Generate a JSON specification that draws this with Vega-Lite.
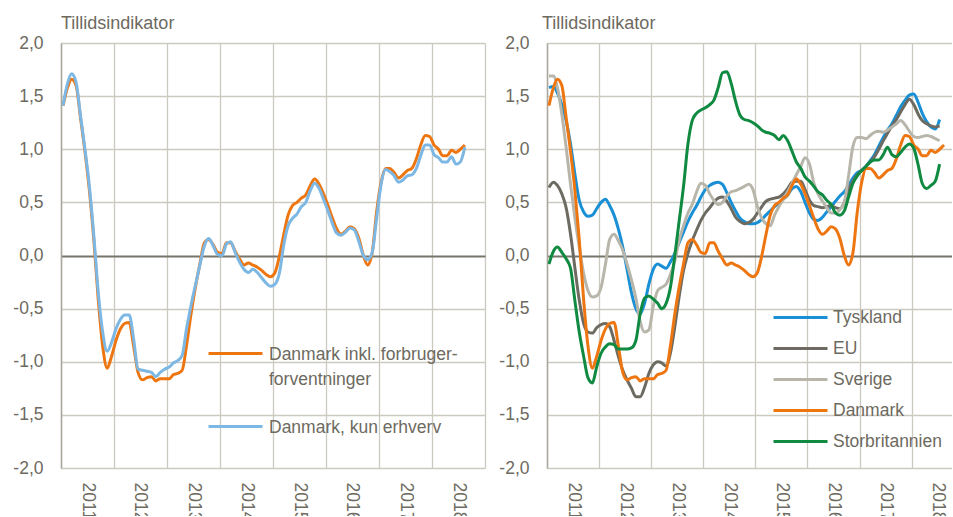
{
"$schema":"https://vega.github.io/schema/vega-lite/v6.json",
"background":"white",
"padding":{"left":12,"top":15,"right":0,"bottom":-5},
"spacing":62,
"bounds":"flush",
"config":{
 "font":"Liberation Sans",
 "view":{"stroke":null},
 "axis":{"labelFont":"Liberation Sans","labelColor":"#6d6a60","labelFontSize":17.5,"title":null,"ticks":false},
 "title":{"font":"Liberation Sans","fontSize":18,"fontWeight":"normal","color":"#6d6a60","anchor":"start","frame":"group","offset":1},
 "legend":{"labelFont":"Liberation Sans","labelColor":"#6d6a60","labelFontSize":17.5,"labelLimit":400,"padding":0,"symbolType":"stroke","symbolSize":2916,"symbolStrokeWidth":3,"labelOffset":5,"title":null}
},
"resolve":{"scale":{"color":"independent","x":"independent","y":"independent"},"legend":{"color":"independent"}},
"datasets":{
"left":[
{"s":"Danmark inkl. forbruger-forventninger","d":"2011-01-15","v":1.41},{"s":"Danmark inkl. forbruger-forventninger","d":"2011-02-15","v":1.58},{"s":"Danmark inkl. forbruger-forventninger","d":"2011-03-15","v":1.66},{"s":"Danmark inkl. forbruger-forventninger","d":"2011-04-15","v":1.60},{"s":"Danmark inkl. forbruger-forventninger","d":"2011-05-15","v":1.30},{"s":"Danmark inkl. forbruger-forventninger","d":"2011-06-15","v":0.98},{"s":"Danmark inkl. forbruger-forventninger","d":"2011-07-15","v":0.62},{"s":"Danmark inkl. forbruger-forventninger","d":"2011-08-15","v":0.15},{"s":"Danmark inkl. forbruger-forventninger","d":"2011-09-15","v":-0.42},{"s":"Danmark inkl. forbruger-forventninger","d":"2011-10-15","v":-0.85},{"s":"Danmark inkl. forbruger-forventninger","d":"2011-11-15","v":-1.06},{"s":"Danmark inkl. forbruger-forventninger","d":"2011-12-15","v":-0.95},
{"s":"Danmark inkl. forbruger-forventninger","d":"2012-01-15","v":-0.80},{"s":"Danmark inkl. forbruger-forventninger","d":"2012-02-15","v":-0.69},{"s":"Danmark inkl. forbruger-forventninger","d":"2012-03-15","v":-0.64},{"s":"Danmark inkl. forbruger-forventninger","d":"2012-04-15","v":-0.63},{"s":"Danmark inkl. forbruger-forventninger","d":"2012-05-15","v":-0.85},{"s":"Danmark inkl. forbruger-forventninger","d":"2012-06-15","v":-1.10},{"s":"Danmark inkl. forbruger-forventninger","d":"2012-07-15","v":-1.17},{"s":"Danmark inkl. forbruger-forventninger","d":"2012-08-15","v":-1.15},{"s":"Danmark inkl. forbruger-forventninger","d":"2012-09-15","v":-1.14},{"s":"Danmark inkl. forbruger-forventninger","d":"2012-10-15","v":-1.18},{"s":"Danmark inkl. forbruger-forventninger","d":"2012-11-15","v":-1.16},{"s":"Danmark inkl. forbruger-forventninger","d":"2012-12-15","v":-1.16},
{"s":"Danmark inkl. forbruger-forventninger","d":"2013-01-15","v":-1.16},{"s":"Danmark inkl. forbruger-forventninger","d":"2013-02-15","v":-1.12},{"s":"Danmark inkl. forbruger-forventninger","d":"2013-03-15","v":-1.11},{"s":"Danmark inkl. forbruger-forventninger","d":"2013-04-15","v":-1.08},{"s":"Danmark inkl. forbruger-forventninger","d":"2013-05-15","v":-0.85},{"s":"Danmark inkl. forbruger-forventninger","d":"2013-06-15","v":-0.55},{"s":"Danmark inkl. forbruger-forventninger","d":"2013-07-15","v":-0.30},{"s":"Danmark inkl. forbruger-forventninger","d":"2013-08-15","v":-0.08},{"s":"Danmark inkl. forbruger-forventninger","d":"2013-09-15","v":0.12},{"s":"Danmark inkl. forbruger-forventninger","d":"2013-10-15","v":0.15},{"s":"Danmark inkl. forbruger-forventninger","d":"2013-11-15","v":0.10},{"s":"Danmark inkl. forbruger-forventninger","d":"2013-12-15","v":0.03},
{"s":"Danmark inkl. forbruger-forventninger","d":"2014-01-15","v":0.02},{"s":"Danmark inkl. forbruger-forventninger","d":"2014-02-15","v":0.12},{"s":"Danmark inkl. forbruger-forventninger","d":"2014-03-15","v":0.12},{"s":"Danmark inkl. forbruger-forventninger","d":"2014-04-15","v":0.04},{"s":"Danmark inkl. forbruger-forventninger","d":"2014-05-15","v":-0.03},{"s":"Danmark inkl. forbruger-forventninger","d":"2014-06-15","v":-0.09},{"s":"Danmark inkl. forbruger-forventninger","d":"2014-07-15","v":-0.07},{"s":"Danmark inkl. forbruger-forventninger","d":"2014-08-15","v":-0.09},{"s":"Danmark inkl. forbruger-forventninger","d":"2014-09-15","v":-0.11},{"s":"Danmark inkl. forbruger-forventninger","d":"2014-10-15","v":-0.14},{"s":"Danmark inkl. forbruger-forventninger","d":"2014-11-15","v":-0.18},{"s":"Danmark inkl. forbruger-forventninger","d":"2014-12-15","v":-0.20},
{"s":"Danmark inkl. forbruger-forventninger","d":"2015-01-15","v":-0.16},{"s":"Danmark inkl. forbruger-forventninger","d":"2015-02-15","v":0.00},{"s":"Danmark inkl. forbruger-forventninger","d":"2015-03-15","v":0.19},{"s":"Danmark inkl. forbruger-forventninger","d":"2015-04-15","v":0.38},{"s":"Danmark inkl. forbruger-forventninger","d":"2015-05-15","v":0.47},{"s":"Danmark inkl. forbruger-forventninger","d":"2015-06-15","v":0.50},{"s":"Danmark inkl. forbruger-forventninger","d":"2015-07-15","v":0.54},{"s":"Danmark inkl. forbruger-forventninger","d":"2015-08-15","v":0.57},{"s":"Danmark inkl. forbruger-forventninger","d":"2015-09-15","v":0.66},{"s":"Danmark inkl. forbruger-forventninger","d":"2015-10-15","v":0.72},{"s":"Danmark inkl. forbruger-forventninger","d":"2015-11-15","v":0.67},{"s":"Danmark inkl. forbruger-forventninger","d":"2015-12-15","v":0.58},
{"s":"Danmark inkl. forbruger-forventninger","d":"2016-01-15","v":0.47},{"s":"Danmark inkl. forbruger-forventninger","d":"2016-02-15","v":0.35},{"s":"Danmark inkl. forbruger-forventninger","d":"2016-03-15","v":0.25},{"s":"Danmark inkl. forbruger-forventninger","d":"2016-04-15","v":0.20},{"s":"Danmark inkl. forbruger-forventninger","d":"2016-05-15","v":0.23},{"s":"Danmark inkl. forbruger-forventninger","d":"2016-06-15","v":0.27},{"s":"Danmark inkl. forbruger-forventninger","d":"2016-07-15","v":0.25},{"s":"Danmark inkl. forbruger-forventninger","d":"2016-08-15","v":0.16},{"s":"Danmark inkl. forbruger-forventninger","d":"2016-09-15","v":0.00},{"s":"Danmark inkl. forbruger-forventninger","d":"2016-10-15","v":-0.09},{"s":"Danmark inkl. forbruger-forventninger","d":"2016-11-15","v":0.03},{"s":"Danmark inkl. forbruger-forventninger","d":"2016-12-15","v":0.41},
{"s":"Danmark inkl. forbruger-forventninger","d":"2017-01-15","v":0.69},{"s":"Danmark inkl. forbruger-forventninger","d":"2017-02-15","v":0.82},{"s":"Danmark inkl. forbruger-forventninger","d":"2017-03-15","v":0.82},{"s":"Danmark inkl. forbruger-forventninger","d":"2017-04-15","v":0.78},{"s":"Danmark inkl. forbruger-forventninger","d":"2017-05-15","v":0.73},{"s":"Danmark inkl. forbruger-forventninger","d":"2017-06-15","v":0.76},{"s":"Danmark inkl. forbruger-forventninger","d":"2017-07-15","v":0.80},{"s":"Danmark inkl. forbruger-forventninger","d":"2017-08-15","v":0.82},{"s":"Danmark inkl. forbruger-forventninger","d":"2017-09-15","v":0.91},{"s":"Danmark inkl. forbruger-forventninger","d":"2017-10-15","v":1.04},{"s":"Danmark inkl. forbruger-forventninger","d":"2017-11-15","v":1.13},{"s":"Danmark inkl. forbruger-forventninger","d":"2017-12-15","v":1.12},
{"s":"Danmark inkl. forbruger-forventninger","d":"2018-01-15","v":1.04},{"s":"Danmark inkl. forbruger-forventninger","d":"2018-02-15","v":1.00},{"s":"Danmark inkl. forbruger-forventninger","d":"2018-03-15","v":0.94},{"s":"Danmark inkl. forbruger-forventninger","d":"2018-04-15","v":0.94},{"s":"Danmark inkl. forbruger-forventninger","d":"2018-05-15","v":0.99},{"s":"Danmark inkl. forbruger-forventninger","d":"2018-06-15","v":0.97},{"s":"Danmark inkl. forbruger-forventninger","d":"2018-07-15","v":1.00},{"s":"Danmark inkl. forbruger-forventninger","d":"2018-08-15","v":1.04},
{"s":"Danmark, kun erhverv","d":"2011-01-15","v":1.41},{"s":"Danmark, kun erhverv","d":"2011-02-15","v":1.62},{"s":"Danmark, kun erhverv","d":"2011-03-15","v":1.71},{"s":"Danmark, kun erhverv","d":"2011-04-15","v":1.63},{"s":"Danmark, kun erhverv","d":"2011-05-15","v":1.32},{"s":"Danmark, kun erhverv","d":"2011-06-15","v":1.00},{"s":"Danmark, kun erhverv","d":"2011-07-15","v":0.66},{"s":"Danmark, kun erhverv","d":"2011-08-15","v":0.19},{"s":"Danmark, kun erhverv","d":"2011-09-15","v":-0.35},{"s":"Danmark, kun erhverv","d":"2011-10-15","v":-0.72},{"s":"Danmark, kun erhverv","d":"2011-11-15","v":-0.90},{"s":"Danmark, kun erhverv","d":"2011-12-15","v":-0.82},
{"s":"Danmark, kun erhverv","d":"2012-01-15","v":-0.69},{"s":"Danmark, kun erhverv","d":"2012-02-15","v":-0.60},{"s":"Danmark, kun erhverv","d":"2012-03-15","v":-0.56},{"s":"Danmark, kun erhverv","d":"2012-04-15","v":-0.56},{"s":"Danmark, kun erhverv","d":"2012-05-15","v":-0.78},{"s":"Danmark, kun erhverv","d":"2012-06-15","v":-1.07},{"s":"Danmark, kun erhverv","d":"2012-07-15","v":-1.08},{"s":"Danmark, kun erhverv","d":"2012-08-15","v":-1.09},{"s":"Danmark, kun erhverv","d":"2012-09-15","v":-1.10},{"s":"Danmark, kun erhverv","d":"2012-10-15","v":-1.14},{"s":"Danmark, kun erhverv","d":"2012-11-15","v":-1.10},{"s":"Danmark, kun erhverv","d":"2012-12-15","v":-1.07},
{"s":"Danmark, kun erhverv","d":"2013-01-15","v":-1.05},{"s":"Danmark, kun erhverv","d":"2013-02-15","v":-1.01},{"s":"Danmark, kun erhverv","d":"2013-03-15","v":-0.99},{"s":"Danmark, kun erhverv","d":"2013-04-15","v":-0.94},{"s":"Danmark, kun erhverv","d":"2013-05-15","v":-0.69},{"s":"Danmark, kun erhverv","d":"2013-06-15","v":-0.47},{"s":"Danmark, kun erhverv","d":"2013-07-15","v":-0.28},{"s":"Danmark, kun erhverv","d":"2013-08-15","v":-0.09},{"s":"Danmark, kun erhverv","d":"2013-09-15","v":0.09},{"s":"Danmark, kun erhverv","d":"2013-10-15","v":0.16},{"s":"Danmark, kun erhverv","d":"2013-11-15","v":0.09},{"s":"Danmark, kun erhverv","d":"2013-12-15","v":0.01},
{"s":"Danmark, kun erhverv","d":"2014-01-15","v":0.00},{"s":"Danmark, kun erhverv","d":"2014-02-15","v":0.11},{"s":"Danmark, kun erhverv","d":"2014-03-15","v":0.13},{"s":"Danmark, kun erhverv","d":"2014-04-15","v":0.03},{"s":"Danmark, kun erhverv","d":"2014-05-15","v":-0.06},{"s":"Danmark, kun erhverv","d":"2014-06-15","v":-0.13},{"s":"Danmark, kun erhverv","d":"2014-07-15","v":-0.16},{"s":"Danmark, kun erhverv","d":"2014-08-15","v":-0.13},{"s":"Danmark, kun erhverv","d":"2014-09-15","v":-0.16},{"s":"Danmark, kun erhverv","d":"2014-10-15","v":-0.21},{"s":"Danmark, kun erhverv","d":"2014-11-15","v":-0.26},{"s":"Danmark, kun erhverv","d":"2014-12-15","v":-0.29},
{"s":"Danmark, kun erhverv","d":"2015-01-15","v":-0.27},{"s":"Danmark, kun erhverv","d":"2015-02-15","v":-0.16},{"s":"Danmark, kun erhverv","d":"2015-03-15","v":0.09},{"s":"Danmark, kun erhverv","d":"2015-04-15","v":0.28},{"s":"Danmark, kun erhverv","d":"2015-05-15","v":0.35},{"s":"Danmark, kun erhverv","d":"2015-06-15","v":0.39},{"s":"Danmark, kun erhverv","d":"2015-07-15","v":0.46},{"s":"Danmark, kun erhverv","d":"2015-08-15","v":0.50},{"s":"Danmark, kun erhverv","d":"2015-09-15","v":0.61},{"s":"Danmark, kun erhverv","d":"2015-10-15","v":0.68},{"s":"Danmark, kun erhverv","d":"2015-11-15","v":0.63},{"s":"Danmark, kun erhverv","d":"2015-12-15","v":0.53},
{"s":"Danmark, kun erhverv","d":"2016-01-15","v":0.42},{"s":"Danmark, kun erhverv","d":"2016-02-15","v":0.30},{"s":"Danmark, kun erhverv","d":"2016-03-15","v":0.21},{"s":"Danmark, kun erhverv","d":"2016-04-15","v":0.19},{"s":"Danmark, kun erhverv","d":"2016-05-15","v":0.22},{"s":"Danmark, kun erhverv","d":"2016-06-15","v":0.26},{"s":"Danmark, kun erhverv","d":"2016-07-15","v":0.24},{"s":"Danmark, kun erhverv","d":"2016-08-15","v":0.13},{"s":"Danmark, kun erhverv","d":"2016-09-15","v":0.00},{"s":"Danmark, kun erhverv","d":"2016-10-15","v":-0.04},{"s":"Danmark, kun erhverv","d":"2016-11-15","v":0.03},{"s":"Danmark, kun erhverv","d":"2016-12-15","v":0.35},
{"s":"Danmark, kun erhverv","d":"2017-01-15","v":0.67},{"s":"Danmark, kun erhverv","d":"2017-02-15","v":0.81},{"s":"Danmark, kun erhverv","d":"2017-03-15","v":0.79},{"s":"Danmark, kun erhverv","d":"2017-04-15","v":0.75},{"s":"Danmark, kun erhverv","d":"2017-05-15","v":0.69},{"s":"Danmark, kun erhverv","d":"2017-06-15","v":0.71},{"s":"Danmark, kun erhverv","d":"2017-07-15","v":0.75},{"s":"Danmark, kun erhverv","d":"2017-08-15","v":0.76},{"s":"Danmark, kun erhverv","d":"2017-09-15","v":0.82},{"s":"Danmark, kun erhverv","d":"2017-10-15","v":0.94},{"s":"Danmark, kun erhverv","d":"2017-11-15","v":1.04},{"s":"Danmark, kun erhverv","d":"2017-12-15","v":1.04},
{"s":"Danmark, kun erhverv","d":"2018-01-15","v":0.95},{"s":"Danmark, kun erhverv","d":"2018-02-15","v":0.92},{"s":"Danmark, kun erhverv","d":"2018-03-15","v":0.88},{"s":"Danmark, kun erhverv","d":"2018-04-15","v":0.88},{"s":"Danmark, kun erhverv","d":"2018-05-15","v":0.93},{"s":"Danmark, kun erhverv","d":"2018-06-15","v":0.86},{"s":"Danmark, kun erhverv","d":"2018-07-15","v":0.88},{"s":"Danmark, kun erhverv","d":"2018-08-15","v":1.02}
],
"right":[
{"s":"Tyskland","d":"2011-01-15","v":1.58},{"s":"Tyskland","d":"2011-02-15","v":1.59},{"s":"Tyskland","d":"2011-03-15","v":1.53},{"s":"Tyskland","d":"2011-04-15","v":1.42},{"s":"Tyskland","d":"2011-05-15","v":1.27},{"s":"Tyskland","d":"2011-06-15","v":1.05},{"s":"Tyskland","d":"2011-07-15","v":0.77},{"s":"Tyskland","d":"2011-08-15","v":0.52},{"s":"Tyskland","d":"2011-09-15","v":0.41},{"s":"Tyskland","d":"2011-10-15","v":0.37},{"s":"Tyskland","d":"2011-11-15","v":0.38},{"s":"Tyskland","d":"2011-12-15","v":0.44},
{"s":"Tyskland","d":"2012-01-15","v":0.50},{"s":"Tyskland","d":"2012-02-15","v":0.53},{"s":"Tyskland","d":"2012-03-15","v":0.47},{"s":"Tyskland","d":"2012-04-15","v":0.38},{"s":"Tyskland","d":"2012-05-15","v":0.25},{"s":"Tyskland","d":"2012-06-15","v":0.08},{"s":"Tyskland","d":"2012-07-15","v":-0.13},{"s":"Tyskland","d":"2012-08-15","v":-0.35},{"s":"Tyskland","d":"2012-09-15","v":-0.50},{"s":"Tyskland","d":"2012-10-15","v":-0.55},{"s":"Tyskland","d":"2012-11-15","v":-0.45},{"s":"Tyskland","d":"2012-12-15","v":-0.27},
{"s":"Tyskland","d":"2013-01-15","v":-0.13},{"s":"Tyskland","d":"2013-02-15","v":-0.08},{"s":"Tyskland","d":"2013-03-15","v":-0.10},{"s":"Tyskland","d":"2013-04-15","v":-0.12},{"s":"Tyskland","d":"2013-05-15","v":-0.06},{"s":"Tyskland","d":"2013-06-15","v":0.02},{"s":"Tyskland","d":"2013-07-15","v":0.12},{"s":"Tyskland","d":"2013-08-15","v":0.22},{"s":"Tyskland","d":"2013-09-15","v":0.32},{"s":"Tyskland","d":"2013-10-15","v":0.40},{"s":"Tyskland","d":"2013-11-15","v":0.47},{"s":"Tyskland","d":"2013-12-15","v":0.55},
{"s":"Tyskland","d":"2014-01-15","v":0.62},{"s":"Tyskland","d":"2014-02-15","v":0.66},{"s":"Tyskland","d":"2014-03-15","v":0.68},{"s":"Tyskland","d":"2014-04-15","v":0.69},{"s":"Tyskland","d":"2014-05-15","v":0.67},{"s":"Tyskland","d":"2014-06-15","v":0.59},{"s":"Tyskland","d":"2014-07-15","v":0.50},{"s":"Tyskland","d":"2014-08-15","v":0.42},{"s":"Tyskland","d":"2014-09-15","v":0.35},{"s":"Tyskland","d":"2014-10-15","v":0.32},{"s":"Tyskland","d":"2014-11-15","v":0.30},{"s":"Tyskland","d":"2014-12-15","v":0.30},
{"s":"Tyskland","d":"2015-01-15","v":0.31},{"s":"Tyskland","d":"2015-02-15","v":0.34},{"s":"Tyskland","d":"2015-03-15","v":0.38},{"s":"Tyskland","d":"2015-04-15","v":0.42},{"s":"Tyskland","d":"2015-05-15","v":0.46},{"s":"Tyskland","d":"2015-06-15","v":0.49},{"s":"Tyskland","d":"2015-07-15","v":0.53},{"s":"Tyskland","d":"2015-08-15","v":0.57},{"s":"Tyskland","d":"2015-09-15","v":0.63},{"s":"Tyskland","d":"2015-10-15","v":0.65},{"s":"Tyskland","d":"2015-11-15","v":0.60},{"s":"Tyskland","d":"2015-12-15","v":0.50},
{"s":"Tyskland","d":"2016-01-15","v":0.40},{"s":"Tyskland","d":"2016-02-15","v":0.34},{"s":"Tyskland","d":"2016-03-15","v":0.33},{"s":"Tyskland","d":"2016-04-15","v":0.36},{"s":"Tyskland","d":"2016-05-15","v":0.41},{"s":"Tyskland","d":"2016-06-15","v":0.46},{"s":"Tyskland","d":"2016-07-15","v":0.51},{"s":"Tyskland","d":"2016-08-15","v":0.56},{"s":"Tyskland","d":"2016-09-15","v":0.60},{"s":"Tyskland","d":"2016-10-15","v":0.66},{"s":"Tyskland","d":"2016-11-15","v":0.73},{"s":"Tyskland","d":"2016-12-15","v":0.78},
{"s":"Tyskland","d":"2017-01-15","v":0.80},{"s":"Tyskland","d":"2017-02-15","v":0.84},{"s":"Tyskland","d":"2017-03-15","v":0.89},{"s":"Tyskland","d":"2017-04-15","v":0.95},{"s":"Tyskland","d":"2017-05-15","v":1.03},{"s":"Tyskland","d":"2017-06-15","v":1.11},{"s":"Tyskland","d":"2017-07-15","v":1.18},{"s":"Tyskland","d":"2017-08-15","v":1.24},{"s":"Tyskland","d":"2017-09-15","v":1.32},{"s":"Tyskland","d":"2017-10-15","v":1.40},{"s":"Tyskland","d":"2017-11-15","v":1.46},{"s":"Tyskland","d":"2017-12-15","v":1.51},
{"s":"Tyskland","d":"2018-01-15","v":1.52},{"s":"Tyskland","d":"2018-02-15","v":1.44},{"s":"Tyskland","d":"2018-03-15","v":1.34},{"s":"Tyskland","d":"2018-04-15","v":1.26},{"s":"Tyskland","d":"2018-05-15","v":1.21},{"s":"Tyskland","d":"2018-06-15","v":1.19},{"s":"Tyskland","d":"2018-07-15","v":1.28},
{"s":"EU","d":"2011-01-15","v":0.64},{"s":"EU","d":"2011-02-15","v":0.69},{"s":"EU","d":"2011-03-15","v":0.66},{"s":"EU","d":"2011-04-15","v":0.58},{"s":"EU","d":"2011-05-15","v":0.45},{"s":"EU","d":"2011-06-15","v":0.20},{"s":"EU","d":"2011-07-15","v":-0.11},{"s":"EU","d":"2011-08-15","v":-0.42},{"s":"EU","d":"2011-09-15","v":-0.64},{"s":"EU","d":"2011-10-15","v":-0.72},{"s":"EU","d":"2011-11-15","v":-0.73},{"s":"EU","d":"2011-12-15","v":-0.68},
{"s":"EU","d":"2012-01-15","v":-0.65},{"s":"EU","d":"2012-02-15","v":-0.64},{"s":"EU","d":"2012-03-15","v":-0.67},{"s":"EU","d":"2012-04-15","v":-0.80},{"s":"EU","d":"2012-05-15","v":-0.95},{"s":"EU","d":"2012-06-15","v":-1.08},{"s":"EU","d":"2012-07-15","v":-1.17},{"s":"EU","d":"2012-08-15","v":-1.25},{"s":"EU","d":"2012-09-15","v":-1.33},{"s":"EU","d":"2012-10-15","v":-1.33},{"s":"EU","d":"2012-11-15","v":-1.24},{"s":"EU","d":"2012-12-15","v":-1.11},
{"s":"EU","d":"2013-01-15","v":-1.03},{"s":"EU","d":"2013-02-15","v":-1.00},{"s":"EU","d":"2013-03-15","v":-1.01},{"s":"EU","d":"2013-04-15","v":-1.04},{"s":"EU","d":"2013-05-15","v":-0.92},{"s":"EU","d":"2013-06-15","v":-0.67},{"s":"EU","d":"2013-07-15","v":-0.39},{"s":"EU","d":"2013-08-15","v":-0.14},{"s":"EU","d":"2013-09-15","v":0.02},{"s":"EU","d":"2013-10-15","v":0.14},{"s":"EU","d":"2013-11-15","v":0.24},{"s":"EU","d":"2013-12-15","v":0.33},
{"s":"EU","d":"2014-01-15","v":0.40},{"s":"EU","d":"2014-02-15","v":0.45},{"s":"EU","d":"2014-03-15","v":0.50},{"s":"EU","d":"2014-04-15","v":0.54},{"s":"EU","d":"2014-05-15","v":0.55},{"s":"EU","d":"2014-06-15","v":0.51},{"s":"EU","d":"2014-07-15","v":0.44},{"s":"EU","d":"2014-08-15","v":0.36},{"s":"EU","d":"2014-09-15","v":0.32},{"s":"EU","d":"2014-10-15","v":0.30},{"s":"EU","d":"2014-11-15","v":0.31},{"s":"EU","d":"2014-12-15","v":0.34},
{"s":"EU","d":"2015-01-15","v":0.40},{"s":"EU","d":"2015-02-15","v":0.46},{"s":"EU","d":"2015-03-15","v":0.51},{"s":"EU","d":"2015-04-15","v":0.53},{"s":"EU","d":"2015-05-15","v":0.54},{"s":"EU","d":"2015-06-15","v":0.55},{"s":"EU","d":"2015-07-15","v":0.58},{"s":"EU","d":"2015-08-15","v":0.63},{"s":"EU","d":"2015-09-15","v":0.69},{"s":"EU","d":"2015-10-15","v":0.70},{"s":"EU","d":"2015-11-15","v":0.70},{"s":"EU","d":"2015-12-15","v":0.62},
{"s":"EU","d":"2016-01-15","v":0.52},{"s":"EU","d":"2016-02-15","v":0.47},{"s":"EU","d":"2016-03-15","v":0.46},{"s":"EU","d":"2016-04-15","v":0.45},{"s":"EU","d":"2016-05-15","v":0.46},{"s":"EU","d":"2016-06-15","v":0.47},{"s":"EU","d":"2016-07-15","v":0.45},{"s":"EU","d":"2016-08-15","v":0.44},{"s":"EU","d":"2016-09-15","v":0.50},{"s":"EU","d":"2016-10-15","v":0.62},{"s":"EU","d":"2016-11-15","v":0.70},{"s":"EU","d":"2016-12-15","v":0.76},
{"s":"EU","d":"2017-01-15","v":0.80},{"s":"EU","d":"2017-02-15","v":0.84},{"s":"EU","d":"2017-03-15","v":0.88},{"s":"EU","d":"2017-04-15","v":0.93},{"s":"EU","d":"2017-05-15","v":1.00},{"s":"EU","d":"2017-06-15","v":1.08},{"s":"EU","d":"2017-07-15","v":1.15},{"s":"EU","d":"2017-08-15","v":1.22},{"s":"EU","d":"2017-09-15","v":1.28},{"s":"EU","d":"2017-10-15","v":1.35},{"s":"EU","d":"2017-11-15","v":1.42},{"s":"EU","d":"2017-12-15","v":1.47},
{"s":"EU","d":"2018-01-15","v":1.42},{"s":"EU","d":"2018-02-15","v":1.33},{"s":"EU","d":"2018-03-15","v":1.27},{"s":"EU","d":"2018-04-15","v":1.24},{"s":"EU","d":"2018-05-15","v":1.22},{"s":"EU","d":"2018-06-15","v":1.21},{"s":"EU","d":"2018-07-15","v":1.22},
{"s":"Sverige","d":"2011-01-15","v":1.69},{"s":"Sverige","d":"2011-02-15","v":1.69},{"s":"Sverige","d":"2011-03-15","v":1.58},{"s":"Sverige","d":"2011-04-15","v":1.33},{"s":"Sverige","d":"2011-05-15","v":1.02},{"s":"Sverige","d":"2011-06-15","v":0.67},{"s":"Sverige","d":"2011-07-15","v":0.36},{"s":"Sverige","d":"2011-08-15","v":0.08},{"s":"Sverige","d":"2011-09-15","v":-0.17},{"s":"Sverige","d":"2011-10-15","v":-0.33},{"s":"Sverige","d":"2011-11-15","v":-0.39},{"s":"Sverige","d":"2011-12-15","v":-0.38},
{"s":"Sverige","d":"2012-01-15","v":-0.30},{"s":"Sverige","d":"2012-02-15","v":-0.08},{"s":"Sverige","d":"2012-03-15","v":0.15},{"s":"Sverige","d":"2012-04-15","v":0.20},{"s":"Sverige","d":"2012-05-15","v":0.14},{"s":"Sverige","d":"2012-06-15","v":0.05},{"s":"Sverige","d":"2012-07-15","v":-0.08},{"s":"Sverige","d":"2012-08-15","v":-0.23},{"s":"Sverige","d":"2012-09-15","v":-0.40},{"s":"Sverige","d":"2012-10-15","v":-0.62},{"s":"Sverige","d":"2012-11-15","v":-0.72},{"s":"Sverige","d":"2012-12-15","v":-0.70},
{"s":"Sverige","d":"2013-01-15","v":-0.48},{"s":"Sverige","d":"2013-02-15","v":-0.33},{"s":"Sverige","d":"2013-03-15","v":-0.30},{"s":"Sverige","d":"2013-04-15","v":-0.27},{"s":"Sverige","d":"2013-05-15","v":-0.18},{"s":"Sverige","d":"2013-06-15","v":-0.05},{"s":"Sverige","d":"2013-07-15","v":0.14},{"s":"Sverige","d":"2013-08-15","v":0.28},{"s":"Sverige","d":"2013-09-15","v":0.40},{"s":"Sverige","d":"2013-10-15","v":0.48},{"s":"Sverige","d":"2013-11-15","v":0.60},{"s":"Sverige","d":"2013-12-15","v":0.68},
{"s":"Sverige","d":"2014-01-15","v":0.66},{"s":"Sverige","d":"2014-02-15","v":0.58},{"s":"Sverige","d":"2014-03-15","v":0.52},{"s":"Sverige","d":"2014-04-15","v":0.48},{"s":"Sverige","d":"2014-05-15","v":0.50},{"s":"Sverige","d":"2014-06-15","v":0.56},{"s":"Sverige","d":"2014-07-15","v":0.60},{"s":"Sverige","d":"2014-08-15","v":0.61},{"s":"Sverige","d":"2014-09-15","v":0.63},{"s":"Sverige","d":"2014-10-15","v":0.65},{"s":"Sverige","d":"2014-11-15","v":0.67},{"s":"Sverige","d":"2014-12-15","v":0.62},
{"s":"Sverige","d":"2015-01-15","v":0.46},{"s":"Sverige","d":"2015-02-15","v":0.35},{"s":"Sverige","d":"2015-03-15","v":0.30},{"s":"Sverige","d":"2015-04-15","v":0.28},{"s":"Sverige","d":"2015-05-15","v":0.38},{"s":"Sverige","d":"2015-06-15","v":0.46},{"s":"Sverige","d":"2015-07-15","v":0.53},{"s":"Sverige","d":"2015-08-15","v":0.60},{"s":"Sverige","d":"2015-09-15","v":0.68},{"s":"Sverige","d":"2015-10-15","v":0.76},{"s":"Sverige","d":"2015-11-15","v":0.84},{"s":"Sverige","d":"2015-12-15","v":0.92},
{"s":"Sverige","d":"2016-01-15","v":0.86},{"s":"Sverige","d":"2016-02-15","v":0.68},{"s":"Sverige","d":"2016-03-15","v":0.58},{"s":"Sverige","d":"2016-04-15","v":0.51},{"s":"Sverige","d":"2016-05-15","v":0.45},{"s":"Sverige","d":"2016-06-15","v":0.40},{"s":"Sverige","d":"2016-07-15","v":0.40},{"s":"Sverige","d":"2016-08-15","v":0.43},{"s":"Sverige","d":"2016-09-15","v":0.50},{"s":"Sverige","d":"2016-10-15","v":0.75},{"s":"Sverige","d":"2016-11-15","v":1.03},{"s":"Sverige","d":"2016-12-15","v":1.11},
{"s":"Sverige","d":"2017-01-15","v":1.11},{"s":"Sverige","d":"2017-02-15","v":1.10},{"s":"Sverige","d":"2017-03-15","v":1.13},{"s":"Sverige","d":"2017-04-15","v":1.16},{"s":"Sverige","d":"2017-05-15","v":1.17},{"s":"Sverige","d":"2017-06-15","v":1.16},{"s":"Sverige","d":"2017-07-15","v":1.18},{"s":"Sverige","d":"2017-08-15","v":1.21},{"s":"Sverige","d":"2017-09-15","v":1.24},{"s":"Sverige","d":"2017-10-15","v":1.27},{"s":"Sverige","d":"2017-11-15","v":1.23},{"s":"Sverige","d":"2017-12-15","v":1.17},
{"s":"Sverige","d":"2018-01-15","v":1.12},{"s":"Sverige","d":"2018-02-15","v":1.11},{"s":"Sverige","d":"2018-03-15","v":1.12},{"s":"Sverige","d":"2018-04-15","v":1.13},{"s":"Sverige","d":"2018-05-15","v":1.12},{"s":"Sverige","d":"2018-06-15","v":1.10},{"s":"Sverige","d":"2018-07-15","v":1.08},
{"s":"Danmark","d":"2011-01-15","v":1.41},{"s":"Danmark","d":"2011-02-15","v":1.58},{"s":"Danmark","d":"2011-03-15","v":1.66},{"s":"Danmark","d":"2011-04-15","v":1.60},{"s":"Danmark","d":"2011-05-15","v":1.30},{"s":"Danmark","d":"2011-06-15","v":0.98},{"s":"Danmark","d":"2011-07-15","v":0.62},{"s":"Danmark","d":"2011-08-15","v":0.15},{"s":"Danmark","d":"2011-09-15","v":-0.42},{"s":"Danmark","d":"2011-10-15","v":-0.85},{"s":"Danmark","d":"2011-11-15","v":-1.06},{"s":"Danmark","d":"2011-12-15","v":-0.95},
{"s":"Danmark","d":"2012-01-15","v":-0.80},{"s":"Danmark","d":"2012-02-15","v":-0.69},{"s":"Danmark","d":"2012-03-15","v":-0.64},{"s":"Danmark","d":"2012-04-15","v":-0.63},{"s":"Danmark","d":"2012-05-15","v":-0.85},{"s":"Danmark","d":"2012-06-15","v":-1.10},{"s":"Danmark","d":"2012-07-15","v":-1.17},{"s":"Danmark","d":"2012-08-15","v":-1.15},{"s":"Danmark","d":"2012-09-15","v":-1.14},{"s":"Danmark","d":"2012-10-15","v":-1.18},{"s":"Danmark","d":"2012-11-15","v":-1.16},{"s":"Danmark","d":"2012-12-15","v":-1.16},
{"s":"Danmark","d":"2013-01-15","v":-1.16},{"s":"Danmark","d":"2013-02-15","v":-1.12},{"s":"Danmark","d":"2013-03-15","v":-1.11},{"s":"Danmark","d":"2013-04-15","v":-1.08},{"s":"Danmark","d":"2013-05-15","v":-0.85},{"s":"Danmark","d":"2013-06-15","v":-0.55},{"s":"Danmark","d":"2013-07-15","v":-0.30},{"s":"Danmark","d":"2013-08-15","v":-0.08},{"s":"Danmark","d":"2013-09-15","v":0.12},{"s":"Danmark","d":"2013-10-15","v":0.15},{"s":"Danmark","d":"2013-11-15","v":0.10},{"s":"Danmark","d":"2013-12-15","v":0.03},
{"s":"Danmark","d":"2014-01-15","v":0.02},{"s":"Danmark","d":"2014-02-15","v":0.12},{"s":"Danmark","d":"2014-03-15","v":0.12},{"s":"Danmark","d":"2014-04-15","v":0.04},{"s":"Danmark","d":"2014-05-15","v":-0.03},{"s":"Danmark","d":"2014-06-15","v":-0.09},{"s":"Danmark","d":"2014-07-15","v":-0.07},{"s":"Danmark","d":"2014-08-15","v":-0.09},{"s":"Danmark","d":"2014-09-15","v":-0.11},{"s":"Danmark","d":"2014-10-15","v":-0.14},{"s":"Danmark","d":"2014-11-15","v":-0.18},{"s":"Danmark","d":"2014-12-15","v":-0.20},
{"s":"Danmark","d":"2015-01-15","v":-0.16},{"s":"Danmark","d":"2015-02-15","v":0.00},{"s":"Danmark","d":"2015-03-15","v":0.19},{"s":"Danmark","d":"2015-04-15","v":0.38},{"s":"Danmark","d":"2015-05-15","v":0.47},{"s":"Danmark","d":"2015-06-15","v":0.50},{"s":"Danmark","d":"2015-07-15","v":0.54},{"s":"Danmark","d":"2015-08-15","v":0.57},{"s":"Danmark","d":"2015-09-15","v":0.66},{"s":"Danmark","d":"2015-10-15","v":0.72},{"s":"Danmark","d":"2015-11-15","v":0.67},{"s":"Danmark","d":"2015-12-15","v":0.58},
{"s":"Danmark","d":"2016-01-15","v":0.47},{"s":"Danmark","d":"2016-02-15","v":0.35},{"s":"Danmark","d":"2016-03-15","v":0.25},{"s":"Danmark","d":"2016-04-15","v":0.20},{"s":"Danmark","d":"2016-05-15","v":0.23},{"s":"Danmark","d":"2016-06-15","v":0.27},{"s":"Danmark","d":"2016-07-15","v":0.25},{"s":"Danmark","d":"2016-08-15","v":0.16},{"s":"Danmark","d":"2016-09-15","v":0.00},{"s":"Danmark","d":"2016-10-15","v":-0.09},{"s":"Danmark","d":"2016-11-15","v":0.03},{"s":"Danmark","d":"2016-12-15","v":0.41},
{"s":"Danmark","d":"2017-01-15","v":0.69},{"s":"Danmark","d":"2017-02-15","v":0.82},{"s":"Danmark","d":"2017-03-15","v":0.82},{"s":"Danmark","d":"2017-04-15","v":0.78},{"s":"Danmark","d":"2017-05-15","v":0.73},{"s":"Danmark","d":"2017-06-15","v":0.76},{"s":"Danmark","d":"2017-07-15","v":0.80},{"s":"Danmark","d":"2017-08-15","v":0.82},{"s":"Danmark","d":"2017-09-15","v":0.91},{"s":"Danmark","d":"2017-10-15","v":1.04},{"s":"Danmark","d":"2017-11-15","v":1.13},{"s":"Danmark","d":"2017-12-15","v":1.12},
{"s":"Danmark","d":"2018-01-15","v":1.04},{"s":"Danmark","d":"2018-02-15","v":1.00},{"s":"Danmark","d":"2018-03-15","v":0.94},{"s":"Danmark","d":"2018-04-15","v":0.94},{"s":"Danmark","d":"2018-05-15","v":0.99},{"s":"Danmark","d":"2018-06-15","v":0.97},{"s":"Danmark","d":"2018-07-15","v":1.00},{"s":"Danmark","d":"2018-08-15","v":1.04},
{"s":"Storbritannien","d":"2011-01-15","v":-0.08},{"s":"Storbritannien","d":"2011-02-15","v":0.04},{"s":"Storbritannien","d":"2011-03-15","v":0.08},{"s":"Storbritannien","d":"2011-04-15","v":0.03},{"s":"Storbritannien","d":"2011-05-15","v":-0.03},{"s":"Storbritannien","d":"2011-06-15","v":-0.12},{"s":"Storbritannien","d":"2011-07-15","v":-0.42},{"s":"Storbritannien","d":"2011-08-15","v":-0.72},{"s":"Storbritannien","d":"2011-09-15","v":-0.95},{"s":"Storbritannien","d":"2011-10-15","v":-1.15},{"s":"Storbritannien","d":"2011-11-15","v":-1.20},{"s":"Storbritannien","d":"2011-12-15","v":-1.05},
{"s":"Storbritannien","d":"2012-01-15","v":-0.92},{"s":"Storbritannien","d":"2012-02-15","v":-0.86},{"s":"Storbritannien","d":"2012-03-15","v":-0.83},{"s":"Storbritannien","d":"2012-04-15","v":-0.84},{"s":"Storbritannien","d":"2012-05-15","v":-0.88},{"s":"Storbritannien","d":"2012-06-15","v":-0.88},{"s":"Storbritannien","d":"2012-07-15","v":-0.88},{"s":"Storbritannien","d":"2012-08-15","v":-0.87},{"s":"Storbritannien","d":"2012-09-15","v":-0.80},{"s":"Storbritannien","d":"2012-10-15","v":-0.55},{"s":"Storbritannien","d":"2012-11-15","v":-0.40},{"s":"Storbritannien","d":"2012-12-15","v":-0.38},
{"s":"Storbritannien","d":"2013-01-15","v":-0.41},{"s":"Storbritannien","d":"2013-02-15","v":-0.45},{"s":"Storbritannien","d":"2013-03-15","v":-0.50},{"s":"Storbritannien","d":"2013-04-15","v":-0.45},{"s":"Storbritannien","d":"2013-05-15","v":-0.30},{"s":"Storbritannien","d":"2013-06-15","v":0.00},{"s":"Storbritannien","d":"2013-07-15","v":0.32},{"s":"Storbritannien","d":"2013-08-15","v":0.65},{"s":"Storbritannien","d":"2013-09-15","v":1.05},{"s":"Storbritannien","d":"2013-10-15","v":1.27},{"s":"Storbritannien","d":"2013-11-15","v":1.34},{"s":"Storbritannien","d":"2013-12-15","v":1.37},
{"s":"Storbritannien","d":"2014-01-15","v":1.39},{"s":"Storbritannien","d":"2014-02-15","v":1.42},{"s":"Storbritannien","d":"2014-03-15","v":1.46},{"s":"Storbritannien","d":"2014-04-15","v":1.58},{"s":"Storbritannien","d":"2014-05-15","v":1.72},{"s":"Storbritannien","d":"2014-06-15","v":1.73},{"s":"Storbritannien","d":"2014-07-15","v":1.62},{"s":"Storbritannien","d":"2014-08-15","v":1.45},{"s":"Storbritannien","d":"2014-09-15","v":1.32},{"s":"Storbritannien","d":"2014-10-15","v":1.28},{"s":"Storbritannien","d":"2014-11-15","v":1.27},{"s":"Storbritannien","d":"2014-12-15","v":1.25},
{"s":"Storbritannien","d":"2015-01-15","v":1.22},{"s":"Storbritannien","d":"2015-02-15","v":1.18},{"s":"Storbritannien","d":"2015-03-15","v":1.16},{"s":"Storbritannien","d":"2015-04-15","v":1.15},{"s":"Storbritannien","d":"2015-05-15","v":1.13},{"s":"Storbritannien","d":"2015-06-15","v":1.09},{"s":"Storbritannien","d":"2015-07-15","v":1.13},{"s":"Storbritannien","d":"2015-08-15","v":1.08},{"s":"Storbritannien","d":"2015-09-15","v":0.98},{"s":"Storbritannien","d":"2015-10-15","v":0.88},{"s":"Storbritannien","d":"2015-11-15","v":0.82},{"s":"Storbritannien","d":"2015-12-15","v":0.74},
{"s":"Storbritannien","d":"2016-01-15","v":0.70},{"s":"Storbritannien","d":"2016-02-15","v":0.65},{"s":"Storbritannien","d":"2016-03-15","v":0.60},{"s":"Storbritannien","d":"2016-04-15","v":0.57},{"s":"Storbritannien","d":"2016-05-15","v":0.52},{"s":"Storbritannien","d":"2016-06-15","v":0.48},{"s":"Storbritannien","d":"2016-07-15","v":0.40},{"s":"Storbritannien","d":"2016-08-15","v":0.38},{"s":"Storbritannien","d":"2016-09-15","v":0.42},{"s":"Storbritannien","d":"2016-10-15","v":0.55},{"s":"Storbritannien","d":"2016-11-15","v":0.68},{"s":"Storbritannien","d":"2016-12-15","v":0.75},
{"s":"Storbritannien","d":"2017-01-15","v":0.80},{"s":"Storbritannien","d":"2017-02-15","v":0.84},{"s":"Storbritannien","d":"2017-03-15","v":0.88},{"s":"Storbritannien","d":"2017-04-15","v":0.90},{"s":"Storbritannien","d":"2017-05-15","v":0.90},{"s":"Storbritannien","d":"2017-06-15","v":0.95},{"s":"Storbritannien","d":"2017-07-15","v":1.02},{"s":"Storbritannien","d":"2017-08-15","v":0.95},{"s":"Storbritannien","d":"2017-09-15","v":0.93},{"s":"Storbritannien","d":"2017-10-15","v":0.97},{"s":"Storbritannien","d":"2017-11-15","v":1.02},{"s":"Storbritannien","d":"2017-12-15","v":1.05},
{"s":"Storbritannien","d":"2018-01-15","v":1.01},{"s":"Storbritannien","d":"2018-02-15","v":0.85},{"s":"Storbritannien","d":"2018-03-15","v":0.68},{"s":"Storbritannien","d":"2018-04-15","v":0.63},{"s":"Storbritannien","d":"2018-05-15","v":0.66},{"s":"Storbritannien","d":"2018-06-15","v":0.70},{"s":"Storbritannien","d":"2018-07-15","v":0.86}
]
},
"hconcat":[
{
 "width":424,"height":425,
 "title":{"text":"Tillidsindikator"},
 "data":{"name":"left"},
 "mark":{"type":"line","strokeWidth":3,"interpolate":"monotone"},
 "encoding":{
  "x":{"field":"d","type":"temporal","scale":{"type":"utc","domain":[{"year":2011,"month":1,"date":1,"utc":true},{"year":2019,"month":1,"date":1,"utc":true}]},
   "axis":{"values":[{"year":2011,"month":1,"date":1,"utc":true},{"year":2012,"month":1,"date":1,"utc":true},{"year":2013,"month":1,"date":1,"utc":true},{"year":2014,"month":1,"date":1,"utc":true},{"year":2015,"month":1,"date":1,"utc":true},{"year":2016,"month":1,"date":1,"utc":true},{"year":2017,"month":1,"date":1,"utc":true},{"year":2018,"month":1,"date":1,"utc":true},{"year":2019,"month":1,"date":1,"utc":true}],
    "labelExpr":"utcyear(datum.value) >= 2019 ? '' : utcFormat(datum.value, '%Y')","labelAngle":90,"labelOffset":26,"labelPadding":14,"domain":false,"grid":true,"gridColor":"#cbc9c0","gridWidth":1.3,"labelFlush":false,"labelOverlap":false,"labelBound":false}},
  "y":{"field":"v","type":"quantitative","scale":{"domain":[-2,2],"nice":false,"zero":false},
   "axis":{"values":[-2,-1.5,-1,-0.5,0,0.5,1,1.5,2],"labelExpr":"(datum.value < 0 ? '-' : '') + replace(format(abs(datum.value), '.1f'), '.', ',')","labelPadding":18,"domain":true,"domainColor":"#aaa79c","domainWidth":1.5,"grid":true,"gridColor":{"condition":{"test":"datum.value === 0","value":"#77746a"},"value":"#cbc9c0"},"gridWidth":{"condition":{"test":"datum.value === 0","value":2},"value":1.3},"labelFlush":false,"labelOverlap":false}},
  "color":{"field":"s","type":"nominal","sort":null,"scale":{"domain":["Danmark inkl. forbruger-forventninger","Danmark, kun erhverv"],"range":["#ee7611","#7db7e4"]},
   "legend":{"orient":"none","legendX":146,"legendY":282,"rowPadding":10,"labelBaseline":"alphabetic","labelExpr":"datum.label == 'Danmark inkl. forbruger-forventninger' ? ['Danmark inkl. forbruger-', 'forventninger'] : datum.label","encode":{"labels":{"update":{"dy":{"value":6},"lineHeight":{"value":25}}}}}}
 }
},
{
 "width":405,"height":425,
 "title":{"text":"Tillidsindikator","dx":-5},
 "data":{"name":"right"},
 "mark":{"type":"line","strokeWidth":3,"interpolate":"monotone"},
 "encoding":{
  "x":{"field":"d","type":"temporal","scale":{"type":"utc","domain":[{"year":2011,"month":1,"date":1,"utc":true},{"year":2018,"month":10,"date":10,"utc":true}]},
   "axis":{"values":[{"year":2011,"month":1,"date":1,"utc":true},{"year":2012,"month":1,"date":1,"utc":true},{"year":2013,"month":1,"date":1,"utc":true},{"year":2014,"month":1,"date":1,"utc":true},{"year":2015,"month":1,"date":1,"utc":true},{"year":2016,"month":1,"date":1,"utc":true},{"year":2017,"month":1,"date":1,"utc":true},{"year":2018,"month":1,"date":1,"utc":true}],
    "labelExpr":"utcFormat(datum.value, '%Y')","labelAngle":90,"labelOffset":26,"labelPadding":14,"domain":false,"grid":true,"gridColor":"#cbc9c0","gridWidth":1.3,"labelFlush":false,"labelOverlap":false,"labelBound":false}},
  "y":{"field":"v","type":"quantitative","scale":{"domain":[-2,2],"nice":false,"zero":false},
   "axis":{"values":[-2,-1.5,-1,-0.5,0,0.5,1,1.5,2],"labelExpr":"(datum.value < 0 ? '-' : '') + replace(format(abs(datum.value), '.1f'), '.', ',')","labelPadding":18,"domain":true,"domainColor":"#aaa79c","domainWidth":1.5,"grid":true,"gridColor":{"condition":{"test":"datum.value === 0","value":"#77746a"},"value":"#cbc9c0"},"gridWidth":{"condition":{"test":"datum.value === 0","value":2},"value":1.3},"labelFlush":false,"labelOverlap":false}},
  "color":{"field":"s","type":"nominal","sort":null,"scale":{"domain":["Tyskland","EU","Sverige","Danmark","Storbritannien"],"range":["#1990d5","#6d6b61","#b8b6aa","#ee7611","#0f8a40"]},
   "legend":{"orient":"none","legendX":243,"legendY":264,"rowPadding":12,"symbolType":"M-3,0H3","symbolSize":324,"labelOffset":22}}
 }
}
]
}
